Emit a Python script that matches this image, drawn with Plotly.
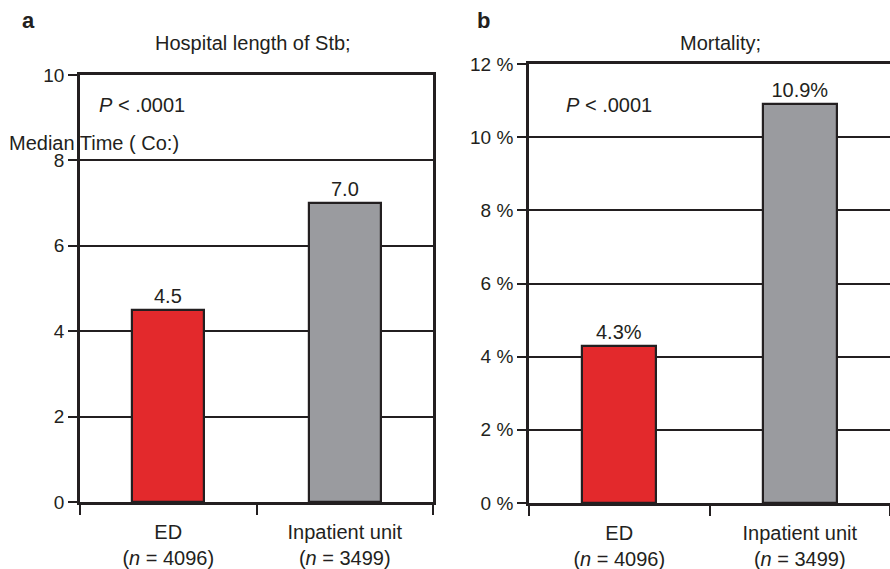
import plotly.graph_objects as go

categories = ["ED", "Inpatient unit"]
n_values = [4096, 3499]
los_median_days = [4.5, 7.0]
mortality_pct = [4.3, 10.9]
los_ticks = [0, 2, 4, 6, 8, 10]
mort_ticks = [0, 2, 4, 6, 8, 10, 12]
mort_ticktext = [f"{t} %" for t in mort_ticks]
bar_colors = ["#E3292C", "#9A9B9F"]

INK = "#231F20"
FONT = "Liberation Sans, Arial, sans-serif"
FS = 20

xlabels = [f"{c}<br>(<i>n</i> = {n})" for c, n in zip(categories, n_values)]

fig = go.Figure()
fig.add_trace(go.Bar(
    x=categories, y=los_median_days, xaxis="x", yaxis="y",
    marker=dict(color=bar_colors, line=dict(color=INK, width=2.2)),
    width=0.41, text=[f"{v:.1f}" for v in los_median_days],
    textposition="outside", textfont=dict(size=FS, color=INK, family=FONT),
    cliponaxis=False, showlegend=False,
))
fig.add_trace(go.Bar(
    x=categories, y=mortality_pct, xaxis="x2", yaxis="y2",
    marker=dict(color=bar_colors, line=dict(color=INK, width=2.2)),
    width=0.41, text=[f"{v:.1f}%" for v in mortality_pct],
    textposition="outside", textfont=dict(size=FS, color=INK, family=FONT),
    cliponaxis=False, showlegend=False,
))

common_x = dict(
    type="category", tickmode="array", tickvals=categories, ticktext=xlabels,
    tickson="boundaries", ticks="outside", ticklen=10, tickwidth=2.2, tickcolor=INK,
    showline=True, linecolor=INK, linewidth=2.8, mirror=True, showgrid=False,
    tickfont=dict(size=FS, color=INK, family=FONT), range=[-0.5, 1.5],
    automargin=False, ticklabelstandoff=10,
)
common_y = dict(
    ticks="outside", ticklen=9, tickwidth=2.2, tickcolor=INK,
    showline=True, linecolor=INK, linewidth=2.8,
    showgrid=True, gridcolor=INK, gridwidth=2.2, zeroline=False,
    tickfont=dict(size=19, color=INK, family=FONT), automargin=False,
)

def ann(text, x, y, xanchor="center", size=FS):
    return dict(text=text, x=x / 890, y=1 - y / 569, xref="paper", yref="paper",
                xanchor=xanchor, yanchor="middle", showarrow=False,
                font=dict(size=size, color=INK, family=FONT))

fig.update_layout(
    width=890, height=569,
    margin=dict(l=0, r=0, t=0, b=0, pad=0),
    paper_bgcolor="white", plot_bgcolor="white",
    font=dict(family=FONT, color=INK, size=FS),
    bargap=0,
    xaxis=dict(domain=[80/890, 433/890], anchor="y", **common_x),
    yaxis=dict(domain=[1-502/569, 1-75/569], anchor="x", range=[0, 10],
               tickvals=los_ticks, mirror=True, **common_y),
    xaxis2=dict(domain=[529/890, 1.0], anchor="y2", **common_x),
    yaxis2=dict(domain=[1-503/569, 1-64/569], anchor="x2", range=[0, 12],
                tickvals=mort_ticks, ticktext=mort_ticktext, **common_y),
    annotations=[
        ann("<b>a</b>", 28, 21, size=22),
        ann("<b>b</b>", 484, 21, size=22),
        ann("Hospital length of Stb;", 253, 43),
        ann("Mortality;", 720, 43),
        ann("<i>P</i> < .0001", 97, 105, xanchor="left"),
        ann("<i>P</i> < .0001", 564, 105, xanchor="left"),
        ann("Median Time ( Co:)", 7, 143, xanchor="left"),
    ],
)

fig.write_html("out.html")
